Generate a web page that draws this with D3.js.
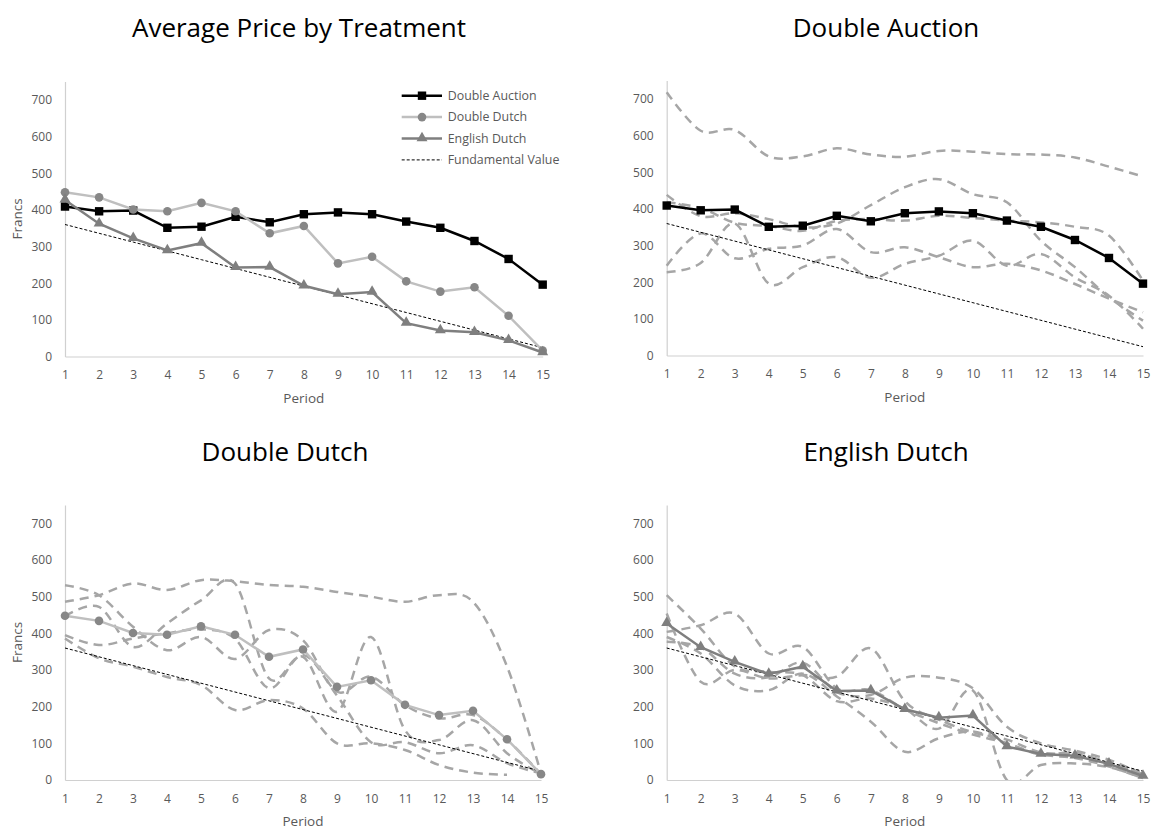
<!DOCTYPE html>
<html>
<head>
<meta charset="utf-8">
<script src="https://cdn.jsdelivr.net/npm/d3@7"></script>
<style>
  body { margin: 0; background: #fff; }
  text { font-family: "Open Sans", "Noto Sans", sans-serif; }
</style>
</head>
<body>
<div id="chart"></div>
<script>
let periods = [1, 2, 3, 4, 5, 6, 7, 8, 9, 10, 11, 12, 13, 14, 15]
let yTicks = [0, 100, 200, 300, 400, 500, 600, 700]

let fundamental = [360, 336, 312, 288, 264, 240, 216, 192, 168, 144, 120, 96, 72, 48, 24]

// treatment averages
let avgDoubleAuction = [409, 396, 398, 351, 354, 381, 366, 388, 393, 388, 368, 351, 315, 266, 196]
let avgDoubleDutch = [448, 434, 401, 396, 419, 396, 336, 356, 254, 272, 205, 177, 189, 111, 16]
let avgEnglishDutch = [427, 362, 322, 289, 309, 243, 244, 193, 170, 176, 91, 71, 66, 44, 11]

// single sessions
let doubleAuctionSessions = [
  [718, 613, 615, 543, 543, 565, 548, 542, 558, 556, 549, 548, 540, 515, 488],
  [438, 380, 388, 372, 350, 360, 410, 459, 481, 440, 418, 313, 241, 159, 95],
  [418, 402, 362, 353, 340, 367, 372, 368, 381, 375, 368, 363, 351, 327, 204],
  [245, 333, 265, 291, 300, 345, 282, 295, 268, 241, 250, 232, 195, 155, 118],
  [227, 252, 360, 196, 241, 268, 212, 250, 272, 313, 245, 277, 213, 163, 73]
]
let doubleDutchSessions = [
  [486, 504, 536, 518, 545, 542, 532, 527, 513, 500, 486, 504, 486, 310, 18],
  [531, 504, 418, 354, 390, 330, 409, 381, 241, 282, 204, 168, 177, 110, 16],
  [447, 472, 363, 427, 490, 536, 277, 336, 186, 390, 136, 109, 163, 73, 16],
  [395, 368, 386, 400, 411, 385, 250, 341, 230, 103, 103, 73, 95, 46, 18],
  [386, 332, 309, 281, 259, 191, 218, 195, 100, 100, 82, 41, 20, 14, null]
]
let englishDutchSessions = [
  [454, 268, 300, 277, 286, 282, 359, 215, 165, 130, 110, 75, 70, 48, 10],
  [404, 422, 454, 345, 363, 250, 245, 193, 155, 124, 100, 69, 75, 45, 20],
  [390, 345, 258, 245, 290, 228, 159, 77, 114, 132, 100, 70, 60, 37, 5],
  [377, 362, 290, 280, 320, 240, 232, 279, 279, 250, 145, 100, 80, 55, 15],
  [504, 413, 310, 295, 286, 215, 222, 194, 140, 244, 0, 41, 45, 35, 5]
]

let panels = [
  { title: 'Average Price by Treatment', tx: 299, ty: 37, left: 65, right: 542.7, bottom: 356.5, yLabel: true, kind: 'all' },
  { title: 'Double Auction', tx: 886, ty: 37, left: 666.7, right: 1143, bottom: 355.5, yLabel: false, kind: 'da' },
  { title: 'Double Dutch', tx: 285, ty: 461, left: 65, right: 541, bottom: 780, yLabel: true, kind: 'dd' },
  { title: 'English Dutch', tx: 886, ty: 461, left: 666.7, right: 1143, bottom: 780, yLabel: false, kind: 'ed' }
]

let styles = {
  da: { line: '#000000', marker: '#000000', shape: 'square' },
  dd: { line: '#bfbfbf', marker: '#878787', shape: 'circle' },
  ed: { line: '#7f7f7f', marker: '#7f7f7f', shape: 'triangle' }
}

let svg = d3.select('#chart')
  .append('svg')
  .attr('width', 1152)
  .attr('height', 830)

let defs = svg.append('defs')

function drawMarker(g, shape, color, cx, cy) {
  if (shape === 'square') {
    g.append('rect')
      .attr('x', cx - 4.2).attr('y', cy - 4.2)
      .attr('width', 8.4).attr('height', 8.4)
      .style('fill', color)
  } else if (shape === 'circle') {
    g.append('circle')
      .attr('cx', cx).attr('cy', cy).attr('r', 4.3)
      .style('fill', color)
  } else {
    g.append('path')
      .attr('d', d3.symbol().type(d3.symbolTriangle).size(52)())
      .attr('transform', 'translate(' + cx + ',' + (cy - 0.5) + ')')
      .style('fill', color)
  }
}

function drawPanel(p, idx) {
  let x = d3.scalePoint().domain(periods).range([p.left, p.right])
  let y = d3.scaleLinear().domain([0, 750]).range([p.bottom, p.bottom - 275])
  let g = svg.append('g')

  // keep the smoothed session lines inside the plot area
  let clipId = 'plot-clip-' + idx
  defs.append('clipPath')
    .attr('id', clipId)
    .append('rect')
    .attr('x', p.left - 2)
    .attr('y', y(750))
    .attr('width', p.right - p.left + 4)
    .attr('height', p.bottom - y(750))

  // axes
  let yAxis = g.append('g')
    .attr('transform', 'translate(' + p.left + ',0)')
    .call(d3.axisLeft(y).tickValues(yTicks).tickSize(0).tickPadding(13))
  let xAxis = g.append('g')
    .attr('transform', 'translate(0,' + p.bottom + ')')
    .call(d3.axisBottom(x).tickSize(0).tickPadding(14))
  ;[xAxis, yAxis].forEach(function (a) {
    a.select('.domain').style('stroke', '#d0d0d0').style('stroke-width', 1.2)
    a.selectAll('text')
      .style('fill', '#595959')
      .style('font-size', '12px')
      .style('font-family', '"Open Sans", sans-serif')
  })

  g.append('text')
    .attr('x', (p.left + p.right) / 2)
    .attr('y', p.bottom + 46)
    .attr('text-anchor', 'middle')
    .style('font-size', '13.5px')
    .style('fill', '#595959')
    .text('Period')

  if (p.yLabel) {
    let cy = p.bottom - 137.5
    g.append('text')
      .attr('transform', 'translate(22,' + cy + ') rotate(-90)')
      .attr('text-anchor', 'middle')
      .style('font-size', '13.5px')
      .style('fill', '#595959')
      .text('Francs')
  }

  g.append('text')
    .attr('x', p.tx)
    .attr('y', p.ty)
    .attr('text-anchor', 'middle')
    .style('font-size', '26px')
    .style('fill', '#000')
    .text(p.title)

  let straight = d3.line()
    .defined(function (d) { return d !== null })
    .x(function (d, i) { return x(periods[i]) })
    .y(function (d) { return y(d) })
  let smooth = d3.line()
    .defined(function (d) { return d !== null })
    .x(function (d, i) { return x(periods[i]) })
    .y(function (d) { return y(d) })
    .curve(d3.curveCatmullRom.alpha(0))

  let sessions = null
  if (p.kind === 'da') sessions = doubleAuctionSessions
  if (p.kind === 'dd') sessions = doubleDutchSessions
  if (p.kind === 'ed') sessions = englishDutchSessions

  if (sessions) {
    g.append('g')
      .attr('clip-path', 'url(#' + clipId + ')')
      .selectAll('.session')
      .data(sessions)
      .enter()
      .append('path')
      .attr('class', 'session')
      .attr('d', smooth)
      .style('fill', 'none')
      .style('stroke', '#a6a6a6')
      .style('stroke-width', 2.5)
      .style('stroke-dasharray', '9,6')
  }

  // fundamental value
  g.append('path')
    .attr('d', straight(fundamental))
    .style('fill', 'none')
    .style('stroke', '#000')
    .style('stroke-width', 1)
    .style('stroke-dasharray', '3,2')

  let series = []
  if (p.kind === 'all' || p.kind === 'ed') series.push({ key: 'ed', values: avgEnglishDutch })
  if (p.kind === 'all' || p.kind === 'dd') series.push({ key: 'dd', values: avgDoubleDutch })
  if (p.kind === 'all' || p.kind === 'da') series.push({ key: 'da', values: avgDoubleAuction })
  if (p.kind === 'all') series.reverse()

  series.forEach(function (s) {
    let st = styles[s.key]
    g.append('path')
      .attr('d', straight(s.values))
      .style('fill', 'none')
      .style('stroke', st.line)
      .style('stroke-width', 2.5)
    s.values.forEach(function (v, i) {
      drawMarker(g, st.shape, st.marker, x(periods[i]), y(v))
    })
  })
}

panels.forEach(drawPanel)

// legend of the first chart
let legendItems = [
  { label: 'Double Auction', key: 'da' },
  { label: 'Double Dutch', key: 'dd' },
  { label: 'English Dutch', key: 'ed' },
  { label: 'Fundamental Value', key: 'fv' }
]
let legend = svg.append('g')
legendItems.forEach(function (item, i) {
  let ly = 95.7 + i * 21.4
  let line = legend.append('line')
    .attr('x1', 401.7).attr('x2', 442)
    .attr('y1', ly).attr('y2', ly)
  if (item.key === 'fv') {
    line.style('stroke', '#000').style('stroke-width', 1).style('stroke-dasharray', '3,2')
  } else {
    let st = styles[item.key]
    line.style('stroke', st.line).style('stroke-width', 2.5)
    drawMarker(legend, st.shape, st.marker, 422, ly)
  }
  legend.append('text')
    .attr('x', 447.7)
    .attr('y', ly + 4.3)
    .style('font-size', '12.4px')
    .style('fill', '#595959')
    .text(item.label)
})
</script>
</body>
</html>
